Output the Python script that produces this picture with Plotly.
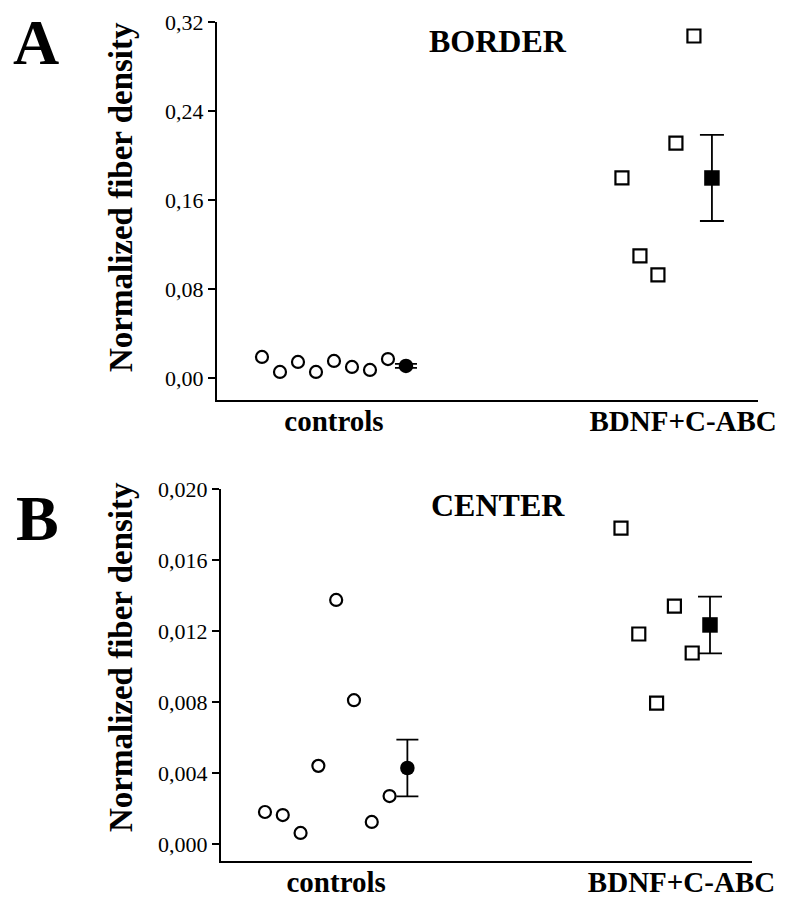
import plotly.graph_objects as go

# ---------------- data ----------------
categories = ["controls", "BDNF+C-ABC"]

# Panel A (BORDER)
border_controls = [0.0189, 0.0054, 0.0144, 0.0054, 0.0153, 0.0099, 0.0072, 0.0170]
border_controls_mean = 0.0108
border_controls_err = 0.0018
border_treated = [0.1798, 0.1097, 0.0926, 0.2112, 0.3074]
border_treated_mean = 0.1798
border_treated_err = 0.0387
border_ticks = [0.0, 0.08, 0.16, 0.24, 0.32]
border_ticktext = ["0,00", "0,08", "0,16", "0,24", "0,32"]

# Panel B (CENTER)
center_controls = [0.0018, 0.00163, 0.00062, 0.0044, 0.01375, 0.0081, 0.00124, 0.0027]
center_controls_mean = 0.00428
center_controls_err = 0.0016
center_treated = [0.0178, 0.01183, 0.00794, 0.0134, 0.01076]
center_treated_mean = 0.01234
center_treated_err = 0.0016
center_ticks = [0.0, 0.004, 0.008, 0.012, 0.016, 0.020]
center_ticktext = ["0,000", "0,004", "0,008", "0,012", "0,016", "0,020"]

# slot layout (index positions of the scatter columns)
treated_start = 20
group_label_slots = [4, 23.4]

FONT = "Liberation Serif"

fig = go.Figure()


def add_panel(xa, ya, ctrl, ctrl_mean, ctrl_err, trt, trt_mean, trt_err):
    xc = list(range(len(ctrl)))
    xcm = len(ctrl)
    xt = [treated_start + i for i in range(len(trt))]
    xtm = treated_start + len(trt)
    fig.add_trace(go.Scatter(
        x=xc, y=ctrl, mode="markers", xaxis=xa, yaxis=ya, showlegend=False,
        marker=dict(symbol="circle", size=12, color="white",
                    line=dict(color="black", width=2.2))))
    fig.add_trace(go.Scatter(
        x=[xcm], y=[ctrl_mean], mode="markers", xaxis=xa, yaxis=ya, showlegend=False,
        error_y=dict(type="data", array=[ctrl_err], color="black", thickness=1.8, width=11),
        marker=dict(symbol="circle", size=14.5, color="black",
                    line=dict(color="black", width=0))))
    fig.add_trace(go.Scatter(
        x=xt, y=trt, mode="markers", xaxis=xa, yaxis=ya, showlegend=False,
        marker=dict(symbol="square", size=13, color="white",
                    line=dict(color="black", width=2.2))))
    fig.add_trace(go.Scatter(
        x=[xtm], y=[trt_mean], mode="markers", xaxis=xa, yaxis=ya, showlegend=False,
        error_y=dict(type="data", array=[trt_err], color="black", thickness=1.8, width=12),
        marker=dict(symbol="square", size=15.5, color="black",
                    line=dict(color="black", width=0))))


add_panel("x", "y", border_controls, border_controls_mean, border_controls_err,
          border_treated, border_treated_mean, border_treated_err)
add_panel("x2", "y2", center_controls, center_controls_mean, center_controls_err,
          center_treated, center_treated_mean, center_treated_err)

W, H = 794, 900
OFF = 8  # page body margin


def px(x):
    return (x - OFF) / W


def py(y):
    return 1 - (y - OFF) / H


xaxis_common = dict(
    showline=True, linecolor="black", linewidth=2, showgrid=False, zeroline=False,
    ticks="", tickvals=group_label_slots, ticktext=categories,
    tickfont=dict(family=FONT, size=29, color="black", weight="bold"),
    ticklabelstandoff=-6,
    fixedrange=True, automargin=False,
)
yaxis_common = dict(
    showline=True, linecolor="black", linewidth=2, showgrid=False, zeroline=False,
    ticks="outside", ticklen=7, tickwidth=2, tickcolor="black",
    tickfont=dict(family=FONT, size=22, color="black"),
    fixedrange=True, automargin=False,
)

fig.update_layout(
    width=W, height=H,
    margin=dict(l=0, r=0, t=0, b=0, autoexpand=False),
    paper_bgcolor="white", plot_bgcolor="white",
    xaxis=dict(xaxis_common, domain=[px(217), px(758)], range=[-2.5, 27.56], anchor="y"),
    yaxis=dict(yaxis_common, domain=[py(400), py(22)], range=[-0.0198, 0.32],
               tickvals=border_ticks, ticktext=border_ticktext, anchor="x"),
    xaxis2=dict(xaxis_common, domain=[px(221), px(752)], range=[-2.47, 27.36], anchor="y2"),
    yaxis2=dict(yaxis_common, domain=[py(861), py(489)], range=[-0.00096, 0.020],
                tickvals=center_ticks, ticktext=center_ticktext, anchor="x2"),
    showlegend=False,
)

ann = []
ytitle = "Normalized fiber density"
for (x, y) in [(121, 197), (121, 657)]:
    ann.append(dict(text=ytitle, x=px(x), y=py(y), xref="paper", yref="paper",
                    textangle=-90, showarrow=False, xanchor="center", yanchor="middle",
                    font=dict(family=FONT, size=33, color="black", weight="bold")))
for (t, x, y) in [("BORDER", 498, 41), ("CENTER", 498, 505)]:
    ann.append(dict(text=t, x=px(x), y=py(y), xref="paper", yref="paper",
                    showarrow=False, xanchor="center", yanchor="middle",
                    font=dict(family=FONT, size=32, color="black", weight="bold")))
for (t, x, y) in [("A", 36, 42), ("B", 37, 518)]:
    ann.append(dict(text=t, x=px(x), y=py(y), xref="paper", yref="paper",
                    showarrow=False, xanchor="center", yanchor="middle",
                    font=dict(family=FONT, size=64, color="black", weight="bold")))
fig.update_layout(annotations=ann)

fig.write_html("out.html")
